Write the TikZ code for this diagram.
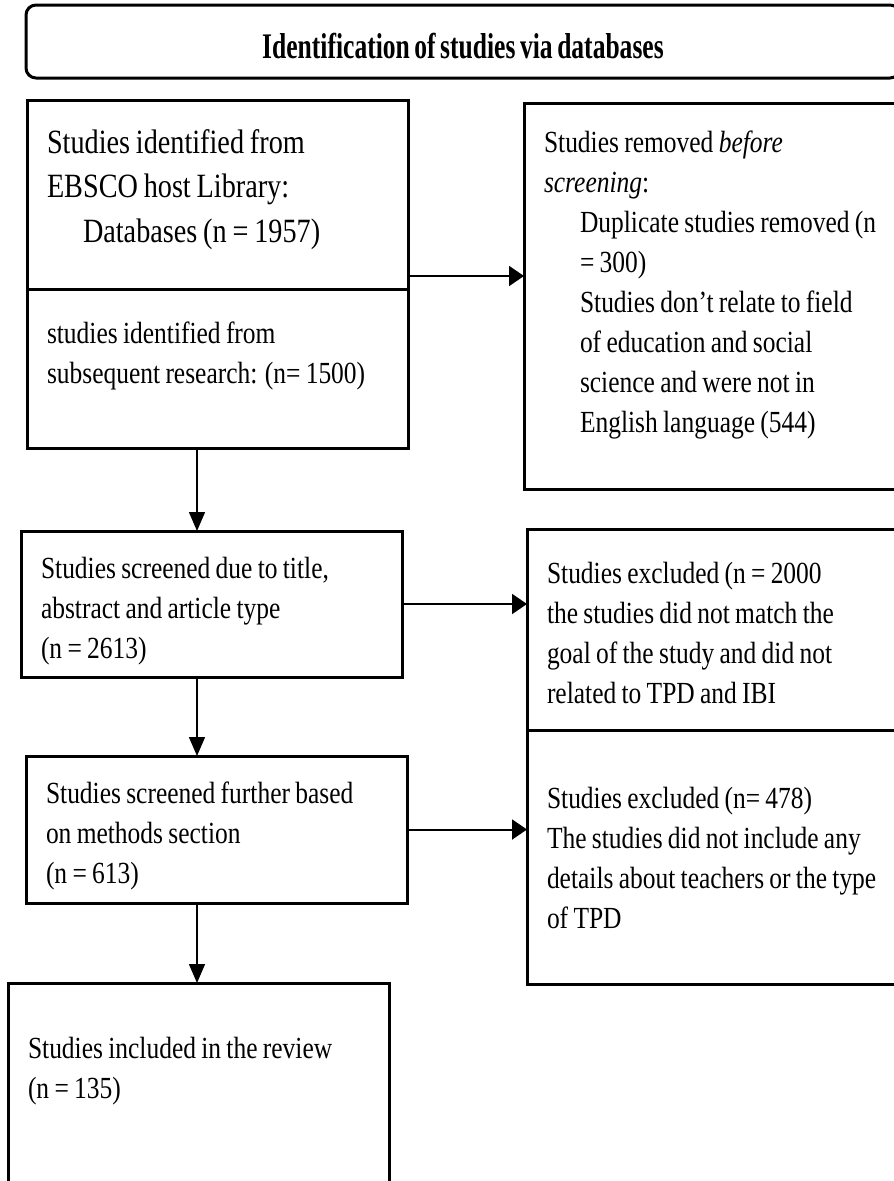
\documentclass[tikz,border=0pt]{standalone}
\usepackage{fontspec}
\setmainfont{Liberation Serif}[FakeStretch=0.83, WordSpace=0.83]
\newfontfamily\headfont{Liberation Serif}[FakeStretch=0.71, WordSpace=0.71]
\usetikzlibrary{positioning, arrows.meta}
\newcommand{\fontspaces}{\spaceskip=0pt\relax\xspaceskip=0pt\relax}
\tikzset{
x=1pt, y=-1pt, % one unit per pixel, y pointing down
box/.style={draw, line width=3pt, outer sep=0pt, inner xsep=20pt, inner ysep=0pt, align=left, text width=341pt, font=\fontsize{30.7}{40}\selectfont, execute at begin node={\fontspaces}}, % the boxes of the flow
bigbox/.style={box, font=\fontsize{34}{44.5}\selectfont}, % the first box has larger text
sidebox/.style={box, text width=353pt}, % boxes on the right, cut by the page edge
down/.style={-{Triangle[length=19pt,width=16pt]}, line width=1.5pt}, % arrows between the steps
side/.style={-{Triangle[length=15pt,width=20pt]}, line width=2pt}, % arrows to the removed studies
}

\begin{document}
\begin{tikzpicture}
    \useasboundingbox (0,0) rectangle (894,1181);
    \clip (0,0) rectangle (894,1181);
    \coordinate (spine) at (197,0);
    \node[draw, line width=3pt, rounded corners=10pt, outer sep=0pt, minimum width=874pt, inner ysep=0pt, text height=53pt, text depth=20pt, anchor=north west, font=\headfont\bfseries\fontsize{36}{40}\selectfont] (head) at (26,5) {Identification of studies via databases};
    \node[bigbox, text height=53pt, text depth=136pt, anchor=north west] (ebsco) at (27,100) {Studies identified from\\EBSCO host Library:\\\hspace*{36pt}Databases (n = 1957)};
    \node[box, text height=54pt, text depth=105pt, below=0pt of ebsco] (subseq) {studies identified from\\subsequent research: (n= 1500)};
    \node[box, text height=47pt, text depth=99pt, anchor=north west] (title) at (21,531) {Studies screened due to title,\\abstract and article type\\(n = 2613)};
    \node[box, text height=47pt, text depth=100pt, anchor=north west] (method) at (26,756) {Studies screened further based\\on methods section\\(n = 613)};
    \node[box, text height=75pt, text depth=142pt, anchor=north west] (review) at (8,983) {Studies included in the review\\(n = 135)};
    \node[sidebox, text height=49pt, text depth=337pt, anchor=north west] (removed) at (524,103) {Studies removed \textit{before}\\\textit{screening}:\\\hspace*{36pt}Duplicate studies removed (n\\\hspace*{36pt}= 300)\\\hspace*{36pt}Studies don’t relate to field\\\hspace*{36pt}of education and social\\\hspace*{36pt}science and were not in\\\hspace*{36pt}English language (544)};
    \node[sidebox, text height=54pt, text depth=147pt, anchor=north west] (excl1) at (527,529) {Studies excluded (n = 2000\\the studies did not match the\\goal of the study and did not\\related to TPD and IBI};
    \node[sidebox, text height=78pt, text depth=176pt, below=0pt of excl1] (excl2) {Studies excluded (n= 478)\\The studies did not include any\\details about teachers or the type\\of TPD};
    \draw[side] ([yshift=13pt]ebsco.south east) -- ([yshift=13pt]ebsco.south east -| removed.west);
    \draw[side] (title.east) -- (title.east -| excl1.west);
    \draw[side] (method.east) -- (method.east -| excl2.west);
    \draw[down] (subseq.south -| spine) -- (title.north -| spine);
    \draw[down] (title.south -| spine) -- (method.north -| spine);
    \draw[down] (method.south -| spine) -- (review.north -| spine);
\end{tikzpicture}
\end{document}
